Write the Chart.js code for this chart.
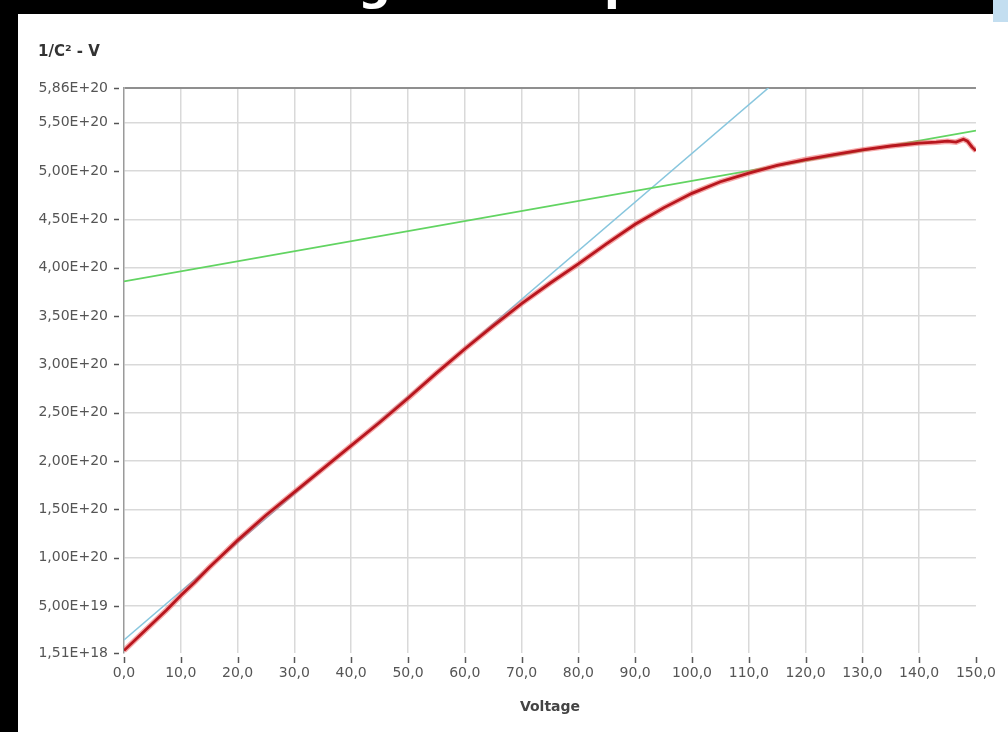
<!DOCTYPE html>
<html>
<head>
<meta charset="utf-8">
<script src="https://cdn.jsdelivr.net/npm/chart.js@4.4.1/dist/chart.umd.min.js"></script>
<style>
  html, body { margin: 0; padding: 0; background: #ffffff; }
  #wrap { width: 1008px; height: 732px; }
</style>
</head>
<body>
<div id="wrap"><canvas id="c" width="1008" height="732"></canvas></div>
<script>
// ---- data ----
const chartTitle = "1/C\u00B2 - V";
const xTitle = "Voltage";
const xTickValues = [0, 10, 20, 30, 40, 50, 60, 70, 80, 90, 100, 110, 120, 130, 140, 150];
const yTickValues = [1.51e18, 5e19, 1e20, 1.5e20, 2e20, 2.5e20, 3e20, 3.5e20, 4e20, 4.5e20, 5e20, 5.5e20, 5.86e20];

// measured 1/C^2 curve (red)
const redVoltage = [0, 2.5, 5, 7.5, 10, 12.5, 15, 17.5, 20, 25, 30, 35, 40, 45, 50, 55, 60, 65, 70, 75, 80, 85, 90, 95, 100, 105, 110, 115, 120, 125, 130, 135, 140, 143, 145, 146.5, 147.8, 148.5, 149.3, 150];
const redValues  = [0.04e20, 0.18e20, 0.32e20, 0.46e20, 0.61e20, 0.75e20, 0.90e20, 1.04e20, 1.18e20, 1.44e20, 1.68e20, 1.92e20, 2.16e20, 2.40e20, 2.65e20, 2.91e20, 3.16e20, 3.40e20, 3.63e20, 3.84e20, 4.04e20, 4.25e20, 4.45e20, 4.62e20, 4.77e20, 4.89e20, 4.98e20, 5.06e20, 5.12e20, 5.17e20, 5.22e20, 5.26e20, 5.29e20, 5.30e20, 5.31e20, 5.30e20, 5.33e20, 5.31e20, 5.25e20, 5.21e20];

// fit line through the low-voltage part (blue)
const blueVoltage = [0, 150];
const blueValues  = [0.15e20, 7.70e20];

// fit line through the high-voltage part (green)
const greenVoltage = [0, 150];
const greenValues  = [3.86e20, 5.42e20];

const FONT = "'DejaVu Sans', sans-serif";
const toPts = (xs, ys) => xs.map((x, i) => ({ x: x, y: ys[i] }));
const fmtY = v => v.toExponential(2).replace('.', ',').replace('e', 'E');
const fmtX = v => v.toFixed(1).replace('.', ',');

const yMin = yTickValues[0];
const yMax = yTickValues[yTickValues.length - 1];

const framePlugin = {
  id: 'frame',
  beforeDraw(chart) {
    const ctx = chart.ctx;
    ctx.save();
    ctx.fillStyle = '#ffffff';
    ctx.fillRect(0, 0, chart.width, chart.height);
    ctx.fillStyle = '#000000';
    ctx.fillRect(0, 0, chart.width, 14);
    ctx.fillRect(0, 0, 18, chart.height);
    // light blue corner
    ctx.fillStyle = '#c3def0';
    ctx.fillRect(993, 0, 15, 22);
    // cropped headline glyph remnants
    ctx.beginPath();
    ctx.rect(18, 0, 975, 14);
    ctx.clip();
    ctx.fillStyle = '#ffffff';
    ctx.font = "bold 46px " + FONT;
    ctx.textBaseline = 'alphabetic';
    ctx.fillText('g', 358, -1);
    ctx.fillText('p', 604, -1);
    ctx.restore();
  },
  afterDraw(chart) {
    const ctx = chart.ctx;
    const a = chart.chartArea;
    const xs = chart.scales.x, ys = chart.scales.y;
    ctx.save();
    ctx.strokeStyle = '#555555';
    ctx.lineWidth = 1.5;
    ys.ticks.forEach(t => {
      const y = Math.round(ys.getPixelForValue(t.value)) + 0.5;
      ctx.beginPath();
      ctx.moveTo(a.left - 10, y);
      ctx.lineTo(a.left - 5, y);
      ctx.stroke();
    });
    xs.ticks.forEach(t => {
      const x = Math.round(xs.getPixelForValue(t.value)) + 0.5;
      ctx.beginPath();
      ctx.moveTo(x, a.bottom + 4);
      ctx.lineTo(x, a.bottom + 10);
      ctx.stroke();
    });
    // chart title
    ctx.fillStyle = '#333333';
    ctx.font = "bold 15px " + FONT;
    ctx.textBaseline = 'middle';
    ctx.textAlign = 'left';
    ctx.fillText(chartTitle, 38, 52);
    ctx.restore();
  }
};

new Chart(document.getElementById('c'), {
  type: 'line',
  data: {
    datasets: [
      {
        label: 'green fit',
        data: toPts(greenVoltage, greenValues),
        borderColor: '#62d462',
        borderWidth: 1.8,
        pointRadius: 0,
        tension: 0,
        order: 3
      },
      {
        label: 'blue fit',
        data: toPts(blueVoltage, blueValues),
        borderColor: '#88c6de',
        borderWidth: 1.5,
        pointRadius: 0,
        tension: 0,
        order: 4
      },
      {
        label: 'measured halo',
        data: toPts(redVoltage, redValues),
        borderColor: 'rgba(238, 95, 95, 0.55)',
        borderWidth: 5.5,
        pointRadius: 0,
        tension: 0,
        order: 2
      },
      {
        label: 'measured',
        data: toPts(redVoltage, redValues),
        borderColor: '#b8161e',
        borderWidth: 2.8,
        pointRadius: 0,
        tension: 0,
        order: 1
      }
    ]
  },
  options: {
    responsive: false,
    animation: false,
    events: [],
    layout: { padding: { left: 0, right: 29, top: 88, bottom: 0 } },
    plugins: {
      legend: { display: false },
      title: { display: false },
      tooltip: { enabled: false }
    },
    scales: {
      x: {
        type: 'linear',
        min: 0,
        max: 150,
        afterFit: s => { s.height = 79; },
        afterBuildTicks: s => { s.ticks = xTickValues.map(v => ({ value: v })); },
        ticks: {
          callback: v => fmtX(v),
          color: '#555555',
          font: { family: FONT, size: 14 },
          padding: 12,
          maxRotation: 0,
          autoSkip: false
        },
        grid: {
          drawTicks: false,
          color: c => (c.tick && (c.tick.value === 150 || c.tick.value === 0)) ? 'rgba(0,0,0,0)' : '#d9d9d9',
          lineWidth: 1.5
        },
        border: { display: false },
        title: {
          display: true,
          text: xTitle,
          color: '#444444',
          font: { family: FONT, size: 14, weight: 'bold' },
          padding: { top: 4, bottom: 16 }
        }
      },
      y: {
        type: 'linear',
        min: yMin,
        max: yMax,
        afterFit: s => { s.width = 124; },
        afterBuildTicks: s => { s.ticks = yTickValues.map(v => ({ value: v })); },
        ticks: {
          callback: v => fmtY(v),
          color: '#555555',
          font: { family: FONT, size: 14 },
          padding: 16,
          autoSkip: false
        },
        grid: {
          drawTicks: false,
          color: c => {
            if (!c.tick) return '#d9d9d9';
            if (c.tick.value === yMax) return '#8f8f8f';
            if (c.tick.value === yMin) return 'rgba(0,0,0,0)';
            return '#d9d9d9';
          },
          lineWidth: c => (c.tick && c.tick.value === yMax) ? 2 : 1.5
        },
        border: { display: true, color: '#9a9a9a', width: 1.5 }
      }
    }
  },
  plugins: [framePlugin]
});
</script>
</body>
</html>
